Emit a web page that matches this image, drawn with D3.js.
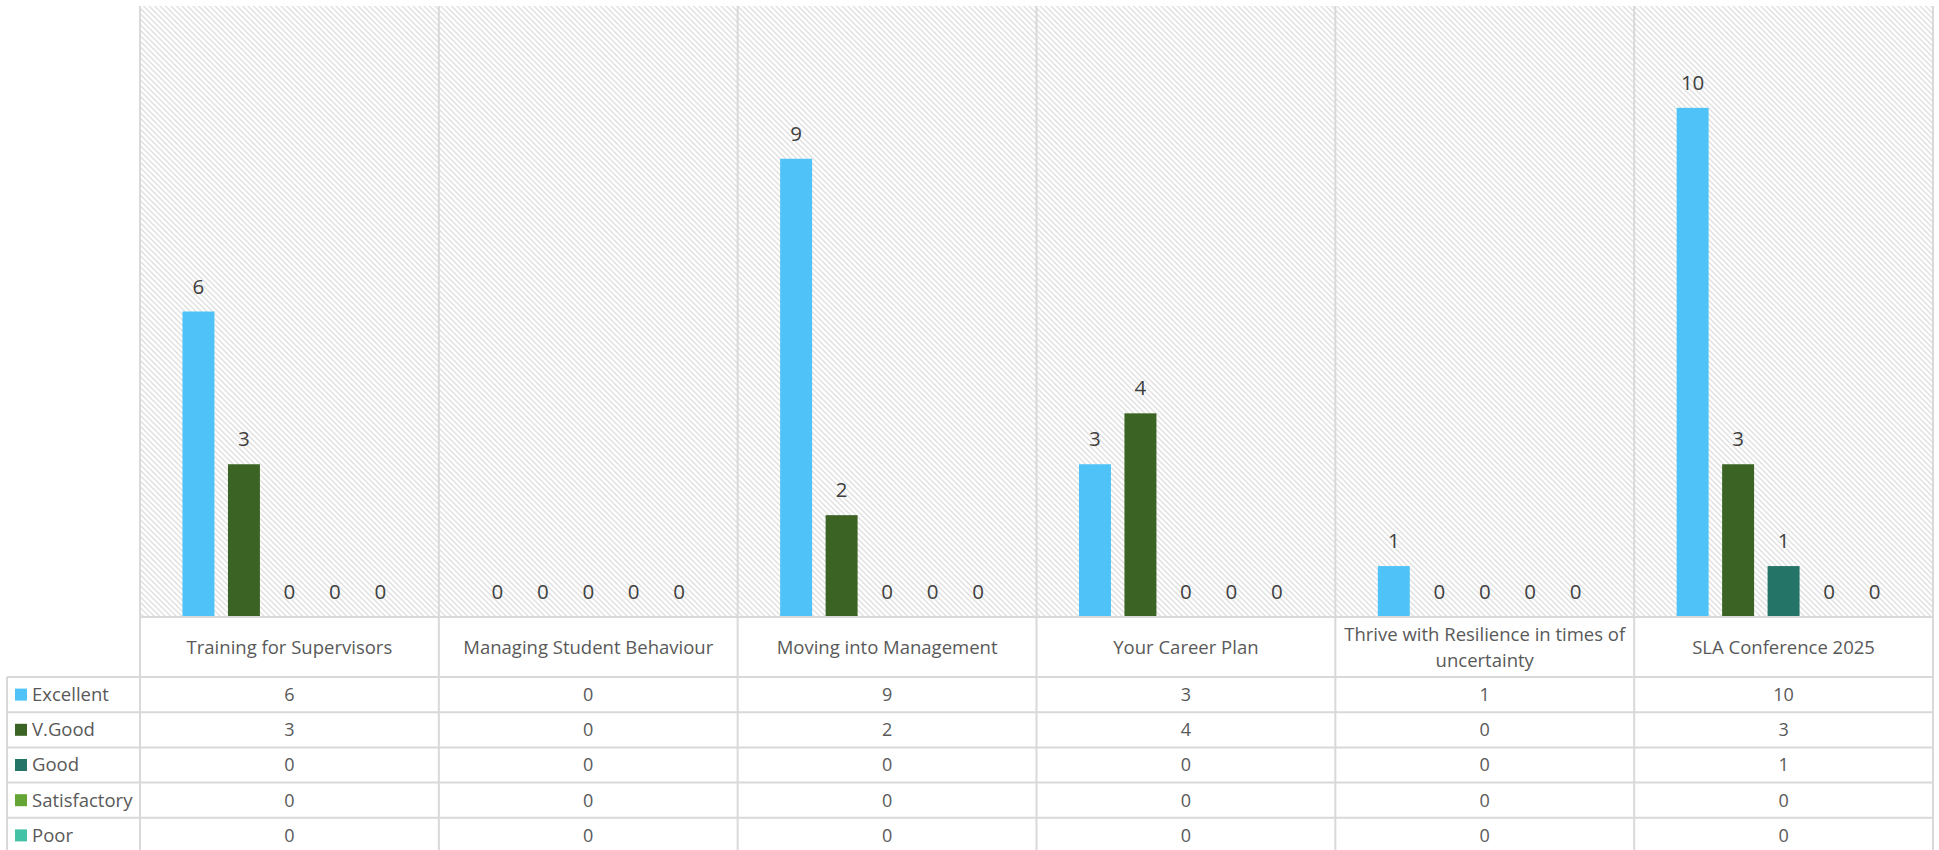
<!DOCTYPE html>
<html>
<head>
<meta charset="utf-8">
<script src="https://cdn.jsdelivr.net/npm/d3@7"></script>
<style>
  body { margin: 0; background: #fff; }
  svg text { font-family: "Open Sans", sans-serif; fill: #595959; }
</style>
</head>
<body>
<div id="chart"></div>
<script>
const categories = [
  "Training for Supervisors",
  "Managing Student Behaviour",
  "Moving into Management",
  "Your Career Plan",
  "Thrive with Resilience in times of uncertainty",
  "SLA Conference 2025"
];
const seriesNames = ["Excellent", "V.Good", "Good", "Satisfactory", "Poor"];
const excellent = [6, 0, 9, 3, 1, 10];
const vGood = [3, 0, 2, 4, 0, 3];
const good = [0, 0, 0, 0, 0, 1];
const satisfactory = [0, 0, 0, 0, 0, 0];
const poor = [0, 0, 0, 0, 0, 0];
const colors = ["#4fc3f7", "#3b6323", "#247567", "#64a535", "#43c2a5"];

const values = [excellent, vGood, good, satisfactory, poor];

const W = 1939, H = 850;
const plot = { left: 140, right: 1933, top: 6, bottom: 617 };
const tableLeft = 7;
const headerBottom = 677;
const rowH = 35.2;
const grid = "#d9d9d9";

const svg = d3.select("#chart").append("svg")
  .attr("width", W)
  .attr("height", H);

// hatched plot background
const pat = svg.append("defs").append("pattern")
  .attr("id", "hatch")
  .attr("patternUnits", "userSpaceOnUse")
  .attr("width", 5.5)
  .attr("height", 5.5);
pat.append("path")
  .attr("d", "M0,0L5.5,5.5M-1,4.5L1,6.5M4.5,-1L6.5,1")
  .attr("stroke", "#d3d3d3")
  .attr("stroke-width", 1.1);

const x0 = d3.scaleBand()
  .domain(categories)
  .range([plot.left, plot.right])
  .paddingInner(0)
  .paddingOuter(0);

const x1 = d3.scaleBand()
  .domain(seriesNames)
  .range([0, x0.bandwidth()])
  .paddingInner(0.297)
  .paddingOuter(0.934);

const y = d3.scaleLinear()
  .domain([0, 12])
  .range([plot.bottom, plot.top]);

svg.append("rect")
  .attr("x", plot.left)
  .attr("y", plot.top)
  .attr("width", plot.right - plot.left)
  .attr("height", plot.bottom - plot.top)
  .attr("fill", "url(#hatch)");

// bars
const groups = svg.append("g").selectAll("g")
  .data(categories)
  .enter().append("g")
  .attr("transform", function (d) { return "translate(" + x0(d) + ",0)"; });

groups.selectAll("rect")
  .data(function (d, i) {
    return seriesNames.map(function (s, j) { return { s: s, v: values[j][i], j: j }; });
  })
  .enter().append("rect")
  .attr("x", function (d) { return x1(d.s); })
  .attr("y", function (d) { return y(d.v); })
  .attr("width", x1.bandwidth())
  .attr("height", function (d) { return y(0) - y(d.v); })
  .attr("fill", function (d) { return colors[d.j]; });

groups.selectAll("text")
  .data(function (d, i) {
    return seriesNames.map(function (s, j) { return { s: s, v: values[j][i] }; });
  })
  .enter().append("text")
  .attr("x", function (d) { return x1(d.s) + x1.bandwidth() / 2; })
  .attr("y", function (d) { return y(d.v) - 18; })
  .attr("text-anchor", "middle")
  .style("font-size", "20.5px")
  .style("fill", "#404040")
  .text(function (d) { return d.v; });

// grid lines of the data table
const rowTops = seriesNames.map(function (s, i) { return headerBottom + i * rowH; });
const tableBottom = headerBottom + seriesNames.length * rowH;
const lines = svg.append("g")
  .attr("stroke", grid)
  .attr("stroke-width", 2)
  .attr("fill", "none");

lines.append("line")
  .attr("x1", plot.left).attr("x2", plot.right)
  .attr("y1", plot.bottom).attr("y2", plot.bottom);

rowTops.forEach(function (t) {
  lines.append("line")
    .attr("x1", tableLeft).attr("x2", plot.right)
    .attr("y1", t).attr("y2", t);
});
lines.append("line")
  .attr("x1", tableLeft).attr("x2", plot.right)
  .attr("y1", tableBottom).attr("y2", tableBottom);

lines.append("line")
  .attr("x1", tableLeft).attr("x2", tableLeft)
  .attr("y1", headerBottom).attr("y2", tableBottom);

categories.concat([null]).forEach(function (c) {
  const xx = c === null ? plot.right : x0(c);
  lines.append("line")
    .attr("x1", xx).attr("x2", xx)
    .attr("y1", plot.top).attr("y2", tableBottom);
});

// category labels (wrapped)
const catText = svg.append("g").selectAll("text")
  .data(categories)
  .enter().append("text")
  .attr("text-anchor", "middle")
  .style("font-size", "18.5px")
  .attr("x", function (d) { return x0(d) + x0.bandwidth() / 2; });

catText.each(function (d) {
  const t = d3.select(this);
  const words = d.split(" ");
  const maxW = x0.bandwidth() - 16;
  let lineArr = [], out = [];
  const probe = t.append("tspan");
  words.forEach(function (w) {
    const test = lineArr.concat([w]).join(" ");
    probe.text(test);
    if (probe.node().getComputedTextLength() > maxW && lineArr.length) {
      out.push(lineArr.join(" "));
      lineArr = [w];
    } else {
      lineArr.push(w);
    }
  });
  out.push(lineArr.join(" "));
  probe.remove();
  const mid = (plot.bottom + headerBottom) / 2;
  const lh = 26;
  out.forEach(function (ln, k) {
    t.append("tspan")
      .attr("x", x0(d) + x0.bandwidth() / 2)
      .attr("y", mid + 7 + (k - (out.length - 1) / 2) * lh)
      .text(ln);
  });
});

// table rows: legend keys, names, values
const rows = svg.append("g").selectAll("g")
  .data(seriesNames)
  .enter().append("g")
  .attr("transform", function (d, i) { return "translate(0," + rowTops[i] + ")"; });

rows.append("rect")
  .attr("x", 15)
  .attr("y", rowH / 2 - 6)
  .attr("width", 12)
  .attr("height", 12)
  .attr("fill", function (d, i) { return colors[i]; });

rows.append("text")
  .attr("x", 32)
  .attr("y", rowH / 2 + 6.5)
  .style("font-size", "18.5px")
  .text(function (d) { return d; });

rows.selectAll("text.val")
  .data(function (d, i) { return values[i]; })
  .enter().append("text")
  .attr("class", "val")
  .attr("x", function (d, k) { return x0(categories[k]) + x0.bandwidth() / 2; })
  .attr("y", rowH / 2 + 6.5)
  .attr("text-anchor", "middle")
  .style("font-size", "18px")
  .text(function (d) { return d; });
</script>
</body>
</html>
